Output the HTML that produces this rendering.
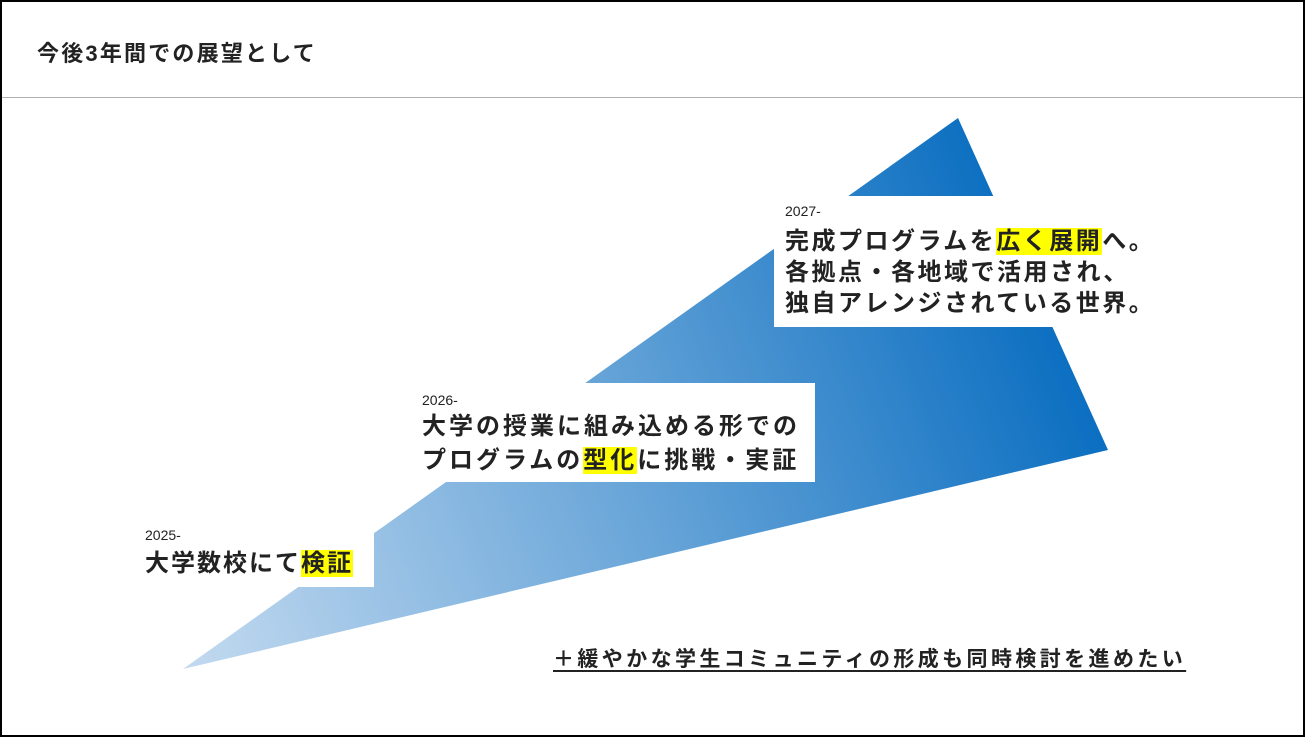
<!DOCTYPE html>
<html><head><meta charset="utf-8"><style>
*{margin:0;padding:0;box-sizing:border-box}
body{width:1305px;height:737px;background:#fff;position:relative;overflow:hidden;font-family:"Liberation Sans","Noto Sans CJK JP",sans-serif;color:#222}
.frame{position:absolute;left:0;top:0;width:1305px;height:737px;border:2px solid #000}
.hline{position:absolute;left:2px;top:97px;width:1301px;height:1px;background:#b0b0b0}
.t{position:absolute;white-space:nowrap;font-weight:bold}
.y{background:#ffff00}
.yr{position:absolute;font-size:14px;color:#222;white-space:nowrap}
.w{position:absolute;background:#fff}
</style></head><body>
<div class="frame"></div>
<div class="hline"></div>
<div class="t" style="left:37px;top:36px;font-size:22px;letter-spacing:2.2px">今後3年間での展望として</div>
<svg style="position:absolute;left:0;top:0" width="1305" height="737">
<defs><linearGradient id="g" x1="183" y1="669" x2="1108" y2="300" gradientUnits="userSpaceOnUse">
<stop offset="0" stop-color="#c3daf0"/><stop offset="0.45" stop-color="#6fa9da"/><stop offset="1" stop-color="#0068be"/></linearGradient></defs>
<polygon points="183,669 958,118 1108,450" fill="url(#g)"/>
</svg>
<div class="w" style="left:774px;top:196px;width:390px;height:131px"></div>
<div class="w" style="left:410px;top:383px;width:405px;height:99px"></div>
<div class="w" style="left:140px;top:532px;width:234px;height:55px"></div>
<div class="yr" style="left:785px;top:203px">2027-</div>
<div class="t" style="left:785px;top:226px;font-size:24px;line-height:31px;letter-spacing:2.5px">完成プログラムを<span class="y">広く展開</span>へ。<br>各拠点・各地域で活用され、<br>独自アレンジされている世界。</div>
<div class="yr" style="left:422px;top:392px">2026-</div>
<div class="t" style="left:422px;top:410px;font-size:24px;line-height:34px;letter-spacing:3px">大学の授業に組み込める形での<br>プログラムの<span class="y">型化</span>に挑戦・実証</div>
<div class="yr" style="left:145px;top:527px">2025-</div>
<div class="t" style="left:145px;top:548px;font-size:24px;line-height:32px;letter-spacing:2px">大学数校にて<span class="y">検証</span></div>
<div class="t" style="left:553px;top:643px;font-size:21px;letter-spacing:3.4px;text-decoration:underline;text-underline-offset:4px">＋緩やかな学生コミュニティの形成も同時検討を進めたい</div>
</body></html>
